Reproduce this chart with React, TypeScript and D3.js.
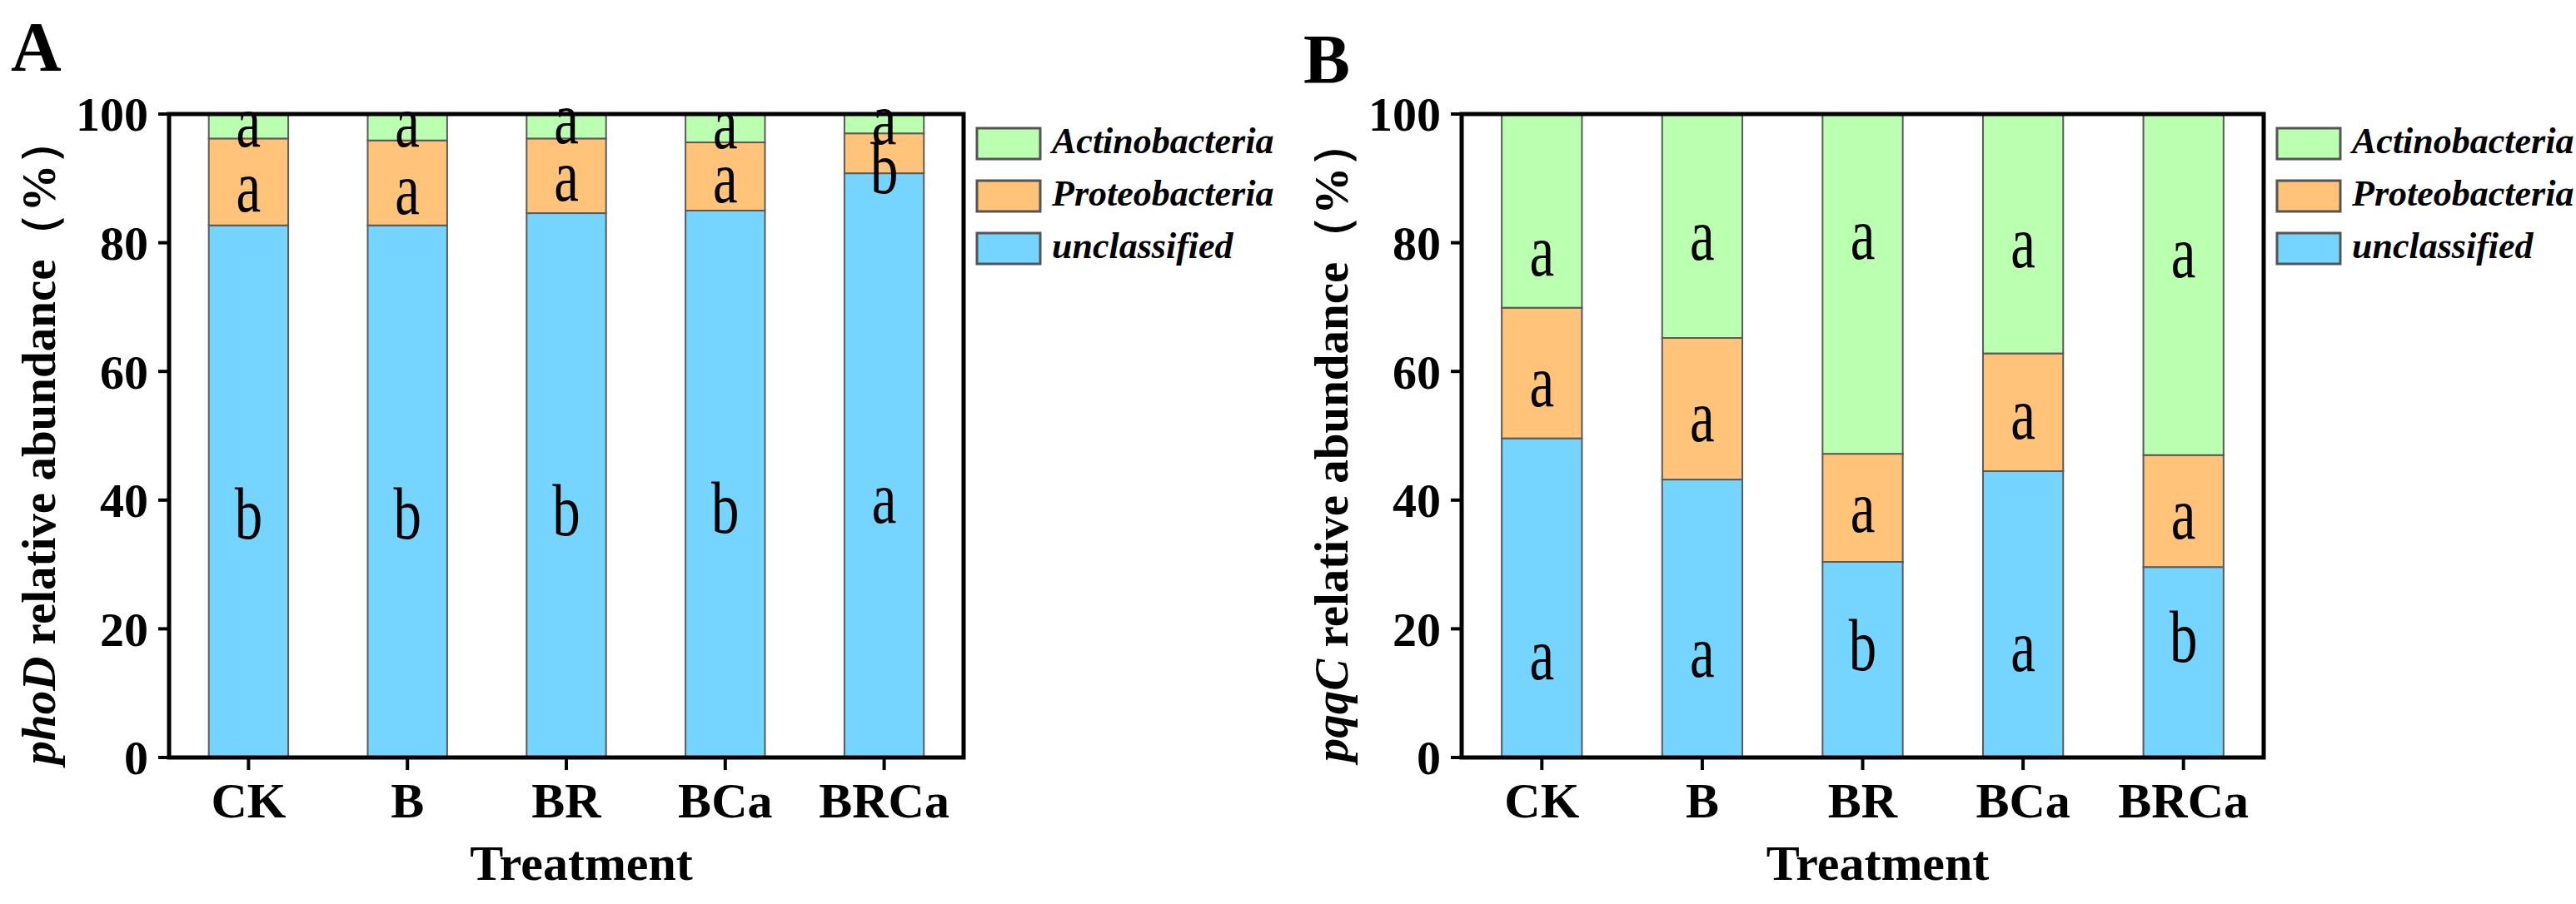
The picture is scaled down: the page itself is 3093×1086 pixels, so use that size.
import * as d3 from "d3";

// treatments along the x axis
const treatments = ["CK", "B", "BR", "BCa", "BRCa"];
const taxa = ["unclassified", "Proteobacteria", "Actinobacteria"];
const legendOrder = ["Actinobacteria", "Proteobacteria", "unclassified"];
const yTicks = [0, 20, 40, 60, 80, 100];

// phoD (%)
const phoDUnclassified = [82.7, 82.7, 84.6, 85.0, 90.8];
const phoDProteobacteria = [13.5, 13.2, 11.6, 10.6, 6.2];
const phoDActinobacteria = [3.8, 4.1, 3.8, 4.4, 3.0];

// pqqC (%)
const pqqCUnclassified = [49.6, 43.2, 30.4, 44.5, 29.6];
const pqqCProteobacteria = [20.3, 22.0, 16.8, 18.3, 17.4];
const pqqCActinobacteria = [30.1, 34.8, 52.8, 37.2, 53.0];

// significance letters
const phoDLettersUnclassified = ["b", "b", "b", "b", "a"];
const phoDLettersProteobacteria = ["a", "a", "a", "a", "b"];
const phoDLettersActinobacteria = ["a", "a", "a", "a", "a"];
const pqqCLettersUnclassified = ["a", "a", "b", "a", "b"];
const pqqCLettersProteobacteria = ["a", "a", "a", "a", "a"];
const pqqCLettersActinobacteria = ["a", "a", "a", "a", "a"];

// where the letters sit, in % (baseline)
const phoDLetterAtUnclassified = [34.0, 34.0, 34.5, 34.9, 36.5];
const phoDLetterAtProteobacteria = [84.9, 84.5, 86.5, 86.3, 87.7];
const phoDLetterAtActinobacteria = [94.9, 94.9, 95.5, 94.7, 95.3];
const pqqCLetterAtUnclassified = [12.1, 12.5, 13.6, 13.4, 14.9];
const pqqCLetterAtProteobacteria = [54.6, 49.2, 35.1, 49.6, 34.0];
const pqqCLetterAtActinobacteria = [74.9, 77.4, 77.5, 76.2, 74.7];

const colors: Record<string, string> = {
  Actinobacteria: "#bbffb1",
  Proteobacteria: "#ffc479",
  unclassified: "#75d5fe",
};

const FONT = "Liberation Serif, Tinos, Times New Roman, DejaVu Serif";

type PanelProps = {
  tag: string;
  tagY: number;
  gene: string;
  left: number;
  right: number;
  values: number[][];
  letters: string[][];
  letterAt: number[][];
};

const Panel = ({ tag, tagY, gene, left, right, values, letters, letterAt }: PanelProps) => {
  const top = 137;
  const bottom = 910;

  const rows = treatments.map((t, i) => {
    const r: any = { treatment: t };
    taxa.forEach((k, j) => (r[k] = values[j][i]));
    return r;
  });
  const stacked = d3.stack<any>().keys(taxa)(rows);

  const x = d3
    .scaleBand()
    .domain(treatments)
    .range([left, right])
    .paddingInner(0.5)
    .paddingOuter(0.25);
  const y = d3.scaleLinear().domain([0, 100]).range([bottom, top]);

  const legendX = right + 16;

  return (
    <g style={{ fontFamily: FONT }}>
      <text x={left - 190} y={tagY} fontSize={84} fontWeight="bold">
        {tag}
      </text>

      {/* bars */}
      {stacked.map((layer) =>
        layer.map((d, i) => (
          <rect
            key={layer.key + i}
            x={x(treatments[i])}
            y={y(d[1])}
            width={x.bandwidth()}
            height={y(d[0]) - y(d[1])}
            fill={colors[layer.key]}
            stroke="#5a5a5a"
            strokeWidth={2}
          />
        ))
      )}

      {/* letters */}
      {taxa.map((k, j) =>
        treatments.map((t, i) => (
          <g
            key={k + t}
            transform={`translate(${x(t)! + x.bandwidth() / 2},${y(letterAt[j][i])}) scale(0.76,1)`}
          >
            <text textAnchor="middle" fontSize={88} fill="#000">
              {letters[j][i]}
            </text>
          </g>
        ))
      )}

      {/* frame */}
      <rect
        x={left}
        y={top}
        width={right - left}
        height={bottom - top}
        fill="none"
        stroke="#000"
        strokeWidth={5}
      />

      {/* y axis */}
      {yTicks.map((v) => (
        <g key={v}>
          <line x1={left - 13} x2={left} y1={y(v)} y2={y(v)} stroke="#000" strokeWidth={4} />
          <text
            x={left - 25}
            y={y(v)}
            dy="0.35em"
            textAnchor="end"
            fontSize={58}
            fontWeight="bold"
          >
            {v}
          </text>
        </g>
      ))}

      {/* x axis */}
      {treatments.map((t) => {
        const cx = x(t)! + x.bandwidth() / 2;
        return (
          <g key={t}>
            <line x1={cx} x2={cx} y1={bottom} y2={bottom + 15} stroke="#000" strokeWidth={4} />
            <text x={cx} y={982} textAnchor="middle" fontSize={60} fontWeight="bold">
              {t}
            </text>
          </g>
        );
      })}
      <text
        x={(left + right) / 2 + 18}
        y={1057}
        textAnchor="middle"
        fontSize={60}
        fontWeight="bold"
      >
        Treatment
      </text>

      <text
        transform={`translate(${left - 137},${(top + bottom) / 2 + 6}) rotate(-90)`}
        textAnchor="middle"
        fontSize={57}
        fontWeight="bold"
      >
        <tspan fontStyle="italic">{gene}</tspan>
        <tspan> relative abundance（%）</tspan>
      </text>

      {/* legend */}
      {legendOrder.map((k, i) => (
        <g key={k} transform={`translate(${legendX},${154 + i * 63})`}>
          <rect width={76} height={37} fill={colors[k]} stroke="#555" strokeWidth={3} />
          <text
            x={90}
            y={30}
            fontSize={44}
            fontWeight="bold"
            fontStyle="italic"
          >
            {k}
          </text>
        </g>
      ))}
    </g>
  );
};

export default function App() {
  return (
    <svg
      width={3093}
      height={1086}
      style={{ position: "absolute", left: 0, top: 0, background: "#fff" }}
    >
      <rect width={3093} height={1086} fill="#fff" />
      <Panel
        tag="A"
        tagY={85}
        gene="phoD"
        left={203}
        right={1157}
        values={[phoDUnclassified, phoDProteobacteria, phoDActinobacteria]}
        letters={[phoDLettersUnclassified, phoDLettersProteobacteria, phoDLettersActinobacteria]}
        letterAt={[phoDLetterAtUnclassified, phoDLetterAtProteobacteria, phoDLetterAtActinobacteria]}
      />
      <Panel
        tag="B"
        tagY={100}
        gene="pqqC"
        left={1755}
        right={2718}
        values={[pqqCUnclassified, pqqCProteobacteria, pqqCActinobacteria]}
        letters={[pqqCLettersUnclassified, pqqCLettersProteobacteria, pqqCLettersActinobacteria]}
        letterAt={[pqqCLetterAtUnclassified, pqqCLetterAtProteobacteria, pqqCLetterAtActinobacteria]}
      />
    </svg>
  );
}
